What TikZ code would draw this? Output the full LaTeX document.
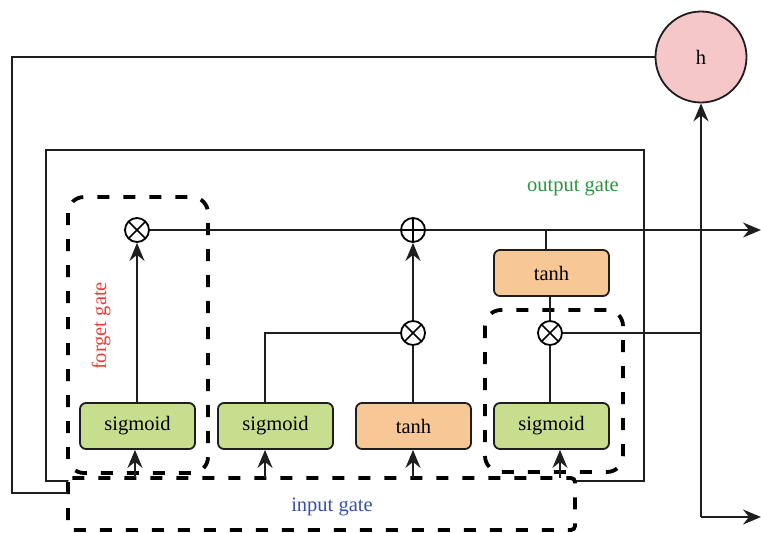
\documentclass[tikz,border=0pt]{standalone}
\usepackage{fontspec}
\setmainfont{Liberation Serif}
\usetikzlibrary{arrows.meta}
\definecolor{sigfill}{RGB}{199,222,142}
\definecolor{tanhfill}{RGB}{247,200,150}
\definecolor{hfill}{RGB}{245,199,201}
\definecolor{ogreen}{RGB}{40,150,60}
\definecolor{fred}{RGB}{232,60,55}
\definecolor{iblue}{RGB}{55,80,170}
\definecolor{linegray}{RGB}{30,30,30}

\begin{document}
\begin{tikzpicture}[x=1pt,y=-1pt,
  line width=2pt, draw=linegray,
  every node/.style={font=\fontsize{20.5}{24}\selectfont},
  act/.style={draw=linegray, line width=1.8pt, rounded corners=6pt,
    minimum width=115pt, minimum height=46pt, inner sep=0pt},
  sig/.style={act, fill=sigfill},
  th/.style={act, fill=tanhfill},
  op/.style={circle, draw=black, line width=1.8pt, minimum size=24pt,
    inner sep=0pt, fill=white},
  times/.style={op, path picture={
    \draw[line width=1.5pt] (path picture bounding box.south west) -- (path picture bounding box.north east)
      (path picture bounding box.north west) -- (path picture bounding box.south east);}},
  plus/.style={op, path picture={
    \draw[line width=1.5pt] (path picture bounding box.north) -- (path picture bounding box.south)
      (path picture bounding box.west) -- (path picture bounding box.east);}},
  gatebox/.style={draw=black, line width=3.8pt, dash pattern=on 12pt off 14pt},
  flow/.style={arrows={-Stealth[length=18pt,width=15pt,inset=6pt]}}
]
\useasboundingbox (0,0) rectangle (761,533);

% cell frame
\draw (46,150) rectangle (644,481);

% input gate region (covers the lower edge of the frame)
\draw[gatebox, fill=white, rounded corners=4pt] (68,478) rectangle (575,530);
\coordinate (igtop) at (0,478);

% forget and output gate regions
\draw[gatebox, rounded corners=16pt] (68,197) rectangle (208,473);
\draw[gatebox, rounded corners=16pt] (485,310) rectangle (623,472);

% activation blocks
\node[sig] (s1) at (137.5,426) {sigmoid};
\node[sig] (s2) at (275.5,426) {sigmoid};
\node[th]  (t1) at (413.5,426) {tanh};
\node[sig] (s3) at (551.5,426) {sigmoid};
\node[th]  (t2) at (551.5,273) {tanh};

% pointwise operations
\node[times] (fx) at (137,230) {};
\node[plus]  (ad) at (413,230) {};
\node[times] (ix) at (413,333) {};
\node[times] (ox) at (550,333) {};

% hidden state
\node[circle, draw=linegray, line width=1.8pt, fill=hfill, minimum size=91pt, inner sep=0pt] (h) at (701,57) {h};

\coordinate (cellend) at (761,230);
\coordinate (hjoin) at (701,333);
\coordinate (hbot) at (701,517);
\coordinate (outend) at (761,517);

% recurrent loop
\draw (h.west) -| (12,493) -- (68,493);

% cell state path
\draw[flow] (s1.north -| fx) -- (fx.south);
\draw (fx.east) -- (ad.west);
\draw[flow] (ad.east) -- (cellend);

% input gate path
\draw ([xshift=-11pt]s2.north) |- (ix.west);
\draw (t1.north -| ix) -- (ix.south);
\draw[flow] (ix.north) -- (ad.south);

% output gate path
\draw ([xshift=-6pt]t2.north) -- ([xshift=-6pt]t2.north |- fx);
\draw (t2.south -| ox) -- (ox.north);
\draw (s3.north -| ox) -- (ox.south);
\draw (ox.east) -- (hjoin);
\draw[flow] (hbot) -- (h.south);
\draw[flow] (hbot) -- (outend);

% inputs into the blocks
\draw[flow] ([xshift=-2.5pt]s1.south |- igtop) -- ([xshift=-2.5pt]s1.south);
\draw[flow] ([xshift=-10.5pt]s2.south |- igtop) -- ([xshift=-10.5pt]s2.south);
\draw[flow] ([xshift=-0.5pt]t1.south |- igtop) -- ([xshift=-0.5pt]t1.south);
\draw[flow] ([xshift=8.5pt]s3.south |- igtop) -- ([xshift=8.5pt]s3.south);

% gate labels
\node[text=ogreen] (lo) at (573,188) {output gate};
\node[text=fred, rotate=90] (lf) at (101,326) {forget gate};
\node[text=iblue] (li) at (332,507) {input gate};
\end{tikzpicture}
\end{document}
